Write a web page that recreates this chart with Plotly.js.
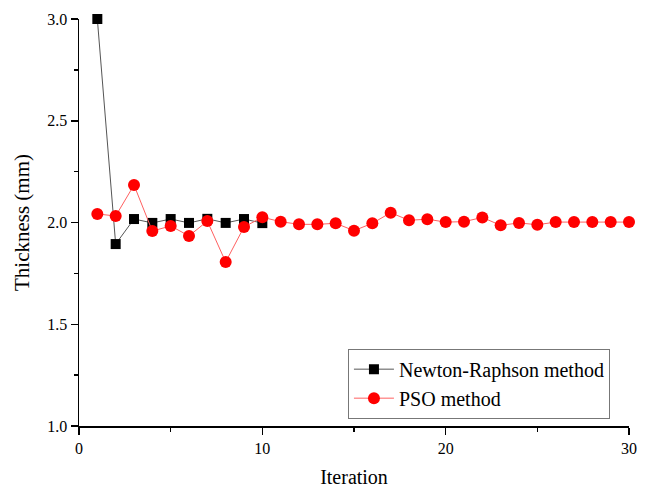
<!DOCTYPE html>
<html>
<head>
<meta charset="utf-8">
<script src="https://cdn.plot.ly/plotly-3.0.1.min.js"></script>
<style>html,body{margin:0;padding:0;background:#fff;}#chart{width:646px;height:488px;}</style>
</head>
<body>
<div id="chart"></div>
<script>
const nrIter = [1,2,3,4,5,6,7,8,9,10];
const nrThickness = [3.0,1.894,2.017,1.998,2.017,1.998,2.018,1.998,2.017,1.997];
const psoIter = [1,2,3,4,5,6,7,8,9,10,11,12,13,14,15,16,17,18,19,20,21,22,23,24,25,26,27,28,29,30];
const psoThickness = [2.042,2.032,2.184,1.958,1.983,1.934,2.007,1.806,1.978,2.026,2.004,1.991,1.991,1.996,1.960,1.996,2.048,2.011,2.016,2.002,2.004,2.025,1.986,1.998,1.989,2.002,2.002,2.002,2.002,2.002];
const xTicks = [0,10,20,30];
const yTicks = [1.0,1.5,2.0,2.5,3.0];

const font = {family: 'Liberation Serif, Times New Roman, serif', color: '#000'};

const traces = [
  {x: nrIter, y: nrThickness, name: 'Newton-Raphson method', mode: 'lines+markers', cliponaxis: false,
   line: {color: '#555', width: 1}, marker: {symbol: 'square', size: 10, color: '#000'}},
  {x: psoIter, y: psoThickness, name: 'PSO method', mode: 'lines+markers', cliponaxis: false,
   line: {color: '#ff6060', width: 1}, marker: {symbol: 'circle', size: 12, color: '#ff0000'}}
];

const layout = {
  width: 646, height: 488,
  margin: {l: 79, r: 17, t: 19, b: 62},
  paper_bgcolor: '#fff', plot_bgcolor: '#fff',
  font: Object.assign({size: 16}, font),
  showlegend: true,
  legend: {x: 0.489, y: 0.19, xanchor: 'left', yanchor: 'top',
    bordercolor: '#777', borderwidth: 1, bgcolor: '#fff',
    font: Object.assign({size: 20}, font), tracegroupgap: 0, itemwidth: 40},
  xaxis: {range: [0, 30], tickvals: xTicks, ticktext: xTicks.map(String),
    showgrid: false, zeroline: false, showline: true, linecolor: '#000', linewidth: 1.5,
    ticks: 'outside', ticklen: 7, tickwidth: 1.5, tickcolor: '#000',
    minor: {dtick: 5, tick0: 0, ticks: 'outside', ticklen: 4, tickwidth: 1.5, tickcolor: '#000', showgrid: false},
    tickfont: Object.assign({size: 16}, font),
    title: {text: 'Iteration', font: Object.assign({size: 20}, font), standoff: 14}},
  yaxis: {range: [1, 3], tickvals: yTicks, ticktext: yTicks.map(v => v.toFixed(1)),
    showgrid: false, zeroline: false, showline: true, linecolor: '#000', linewidth: 1.5,
    ticks: 'outside', ticklen: 7, tickwidth: 1.5, tickcolor: '#000',
    minor: {dtick: 0.25, tick0: 1, ticks: 'outside', ticklen: 4, tickwidth: 1.5, tickcolor: '#000', showgrid: false},
    tickfont: Object.assign({size: 16}, font),
    title: {text: 'Thickness (mm)', font: Object.assign({size: 21}, font), standoff: 12}}
};

Plotly.newPlot('chart', traces, layout, {displayModeBar: false, staticPlot: true});
</script>
</body>
</html>
